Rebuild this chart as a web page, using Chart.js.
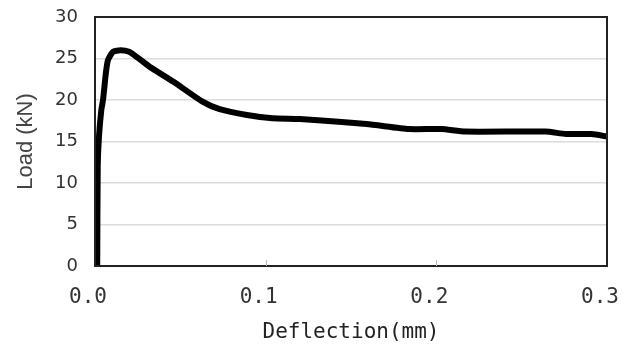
<!DOCTYPE html>
<html>
<head>
<meta charset="utf-8">
<script src="https://cdn.jsdelivr.net/npm/chart.js@4.4.0/dist/chart.umd.min.js"></script>
<style>
  html, body { margin: 0; padding: 0; background: #fff; }
  #wrap { width: 623px; height: 347px; }
</style>
</head>
<body>
<div id="wrap"><canvas id="loadChart" width="623" height="347"></canvas></div>
<script>
// values
const deflection = [0.0013, 0.0016, 0.0023, 0.0037, 0.0047, 0.0064, 0.0076, 0.0105, 0.015, 0.020, 0.025, 0.032, 0.046, 0.063, 0.073, 0.089, 0.104, 0.120, 0.159, 0.184, 0.203, 0.217, 0.264, 0.276, 0.291, 0.300];
const load = [0, 12, 15.5, 18.8, 20.0, 23.3, 24.8, 25.8, 26.0, 25.8, 25.1, 24.0, 22.2, 19.8, 18.9, 18.2, 17.8, 17.7, 17.1, 16.5, 16.5, 16.2, 16.2, 15.9, 15.9, 15.6];
const xTicks = [0, 0.1, 0.2, 0.3];
const yTicks = [0, 5, 10, 15, 20, 25, 30];

const frame = {
    id: 'frame',
    afterDraw(chart) {
        const a = chart.chartArea;
        const ctx = chart.ctx;
        ctx.save();
        ctx.strokeStyle = '#222';
        ctx.lineWidth = 2;
        ctx.strokeRect(a.left, a.top, a.right - a.left, a.bottom - a.top);
        // small inner tick marks on the x axis
        ctx.strokeStyle = '#bbb';
        ctx.lineWidth = 1;
        const xs = chart.scales.x;
        [0.1, 0.2].forEach(v => {
            const px = Math.round(xs.getPixelForValue(v)) + 0.5;
            ctx.beginPath();
            ctx.moveTo(px, a.bottom);
            ctx.lineTo(px, a.bottom - 6);
            ctx.stroke();
        });
        ctx.restore();
    }
};

const ctx = document.getElementById('loadChart').getContext('2d');
new Chart(ctx, {
    type: 'scatter',
    data: {
        datasets: [{
            data: deflection.map((x, i) => ({ x: x, y: load[i] })),
            showLine: true,
            borderColor: '#000',
            borderWidth: 6,
            pointRadius: 0,
            tension: 0.2,
            fill: false
        }]
    },
    options: {
        responsive: false,
        animation: false,
        layout: { padding: { left: 13, right: 16, top: 17, bottom: 0 } },
        plugins: { legend: { display: false }, tooltip: { enabled: false } },
        scales: {
            x: {
                type: 'linear',
                min: 0,
                max: 0.3,
                afterFit: s => { s.height = 81; s.paddingLeft = 0; s.paddingRight = 0; },
                afterBuildTicks: s => { s.ticks = xTicks.map(v => ({ value: v })); },
                grid: { display: false, drawTicks: false },
                border: { display: false },
                ticks: {
                    padding: 19,
                    labelOffset: -7,
                    color: '#333',
                    font: { family: 'DejaVu Sans Mono', size: 21 },
                    callback: v => v.toFixed(1)
                },
                title: {
                    display: true,
                    text: 'Deflection(mm)',
                    color: '#222',
                    font: { family: 'DejaVu Sans Mono', size: 21 },
                    padding: { top: 0, bottom: 2 }
                }
            },
            y: {
                min: 0,
                max: 30,
                afterFit: s => { s.width = 82; s.paddingTop = 0; s.paddingBottom = 0; },
                afterBuildTicks: s => { s.ticks = yTicks.map(v => ({ value: v })); },
                grid: { color: '#dcdcdc', lineWidth: 1.5, drawTicks: false },
                border: { display: false },
                ticks: {
                    padding: 17,
                    color: '#333',
                    font: { family: 'DejaVu Sans', size: 18 }
                },
                title: {
                    display: true,
                    text: 'Load (kN)',
                    color: '#444',
                    font: { family: 'Liberation Sans', size: 22 },
                    padding: 0
                }
            }
        }
    },
    plugins: [frame]
});
</script>
</body>
</html>
